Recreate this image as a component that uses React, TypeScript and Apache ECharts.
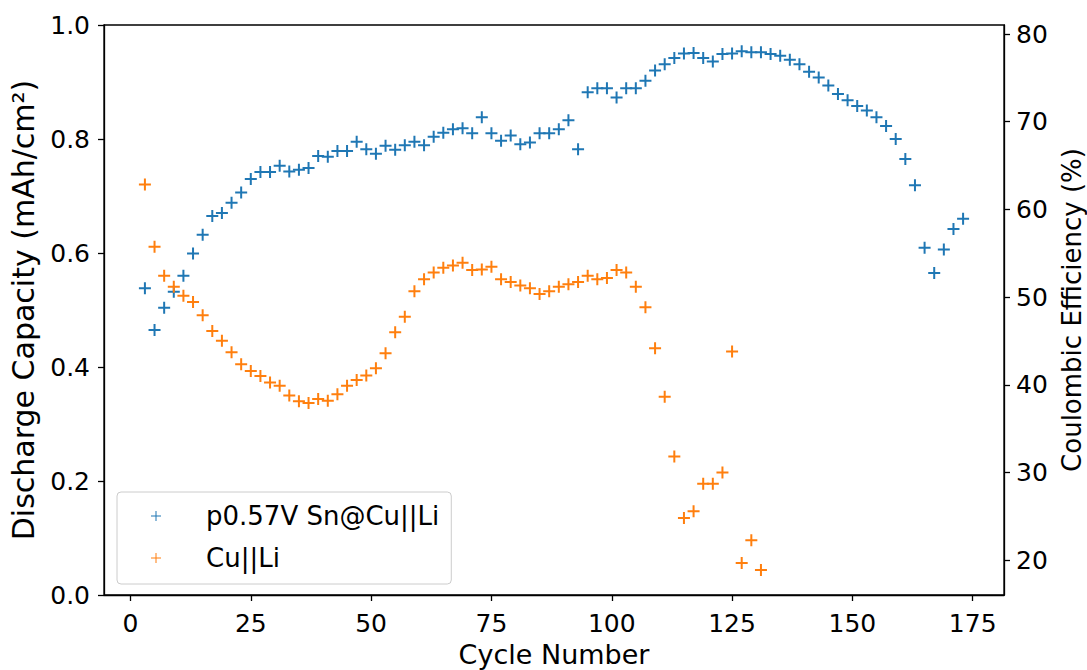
import React, { useEffect, useRef } from "react";
import * as echarts from "echarts";

const cyclesSn = [3,5,7,9,11,13,15,17,19,21,23,25,27,29,31,33,35,37,39,41,43,45,47,49,51,53,55,57,59,61,63,65,67,69,71,73,75,77,79,81,83,85,87,89,91,93,95,97,99,101,103,105,107,109,111,113,115,117,119,121,123,125,127,129,131,133,135,137,139,141,143,145,147,149,151,153,155,157,159,161,163,165,167,169,171,173];
const capacitySn = [0.538,0.465,0.504,0.532,0.560,0.599,0.632,0.665,0.670,0.688,0.706,0.730,0.742,0.742,0.753,0.743,0.746,0.749,0.770,0.769,0.779,0.779,0.795,0.782,0.774,0.788,0.781,0.789,0.795,0.789,0.804,0.811,0.817,0.819,0.810,0.838,0.810,0.797,0.806,0.791,0.794,0.810,0.810,0.817,0.833,0.782,0.882,0.889,0.889,0.873,0.889,0.889,0.902,0.920,0.931,0.942,0.950,0.951,0.942,0.936,0.949,0.950,0.954,0.952,0.952,0.949,0.946,0.939,0.931,0.918,0.908,0.894,0.879,0.868,0.858,0.850,0.838,0.823,0.800,0.765,0.719,0.609,0.565,0.606,0.642,0.660];

const cyclesCu = [3,5,7,9,11,13,15,17,19,21,23,25,27,29,31,33,35,37,39,41,43,45,47,49,51,53,55,57,59,61,63,65,67,69,71,73,75,77,79,81,83,85,87,89,91,93,95,97,99,101,103,105,107,109,111,113,115,117,119,121,123,125,127,129,131];
const capacityCu = [0.720,0.611,0.560,0.541,0.525,0.514,0.491,0.463,0.446,0.426,0.405,0.393,0.384,0.373,0.367,0.350,0.340,0.337,0.344,0.341,0.352,0.367,0.377,0.385,0.398,0.424,0.461,0.488,0.533,0.554,0.566,0.574,0.578,0.583,0.570,0.571,0.576,0.554,0.549,0.543,0.538,0.528,0.533,0.541,0.545,0.549,0.560,0.554,0.556,0.570,0.566,0.541,0.505,0.433,0.348,0.243,0.135,0.147,0.195,0.195,0.215,0.427,0.056,0.096,0.044];

const xTicks = [0, 25, 50, 75, 100, 125, 150, 175];
const rightTicks = [20, 30, 40, 50, 60, 70, 80];

const seriesNames = ["p0.57V Sn@Cu||Li", "Cu||Li"];
const colors = ["#1f77b4", "#ff7f0e"];

const PLUS = "path://M5,0H7V5H12V7H7V12H5V7H0V5H5Z";
const PLUS_THIN = "path://M5.4,0H6.6V5.4H12V6.6H6.6V12H5.4V6.6H0V5.4H5.4Z";
const FONT = "DejaVu Sans";

export default function App() {
  const ref = useRef<HTMLDivElement>(null);
  useEffect(() => {
    if (!ref.current) return;
    const chart = echarts.init(ref.current, undefined, { renderer: "svg" });
    const axisLine = { show: true, onZero: false, lineStyle: { color: "#000", width: 1.3 } };
    const axisTick = { show: true, inside: false, length: 6, lineStyle: { color: "#000", width: 1.3 } };
    chart.setOption({
      animation: false,
      backgroundColor: "#fff",
      textStyle: { fontFamily: FONT },
      grid: {
        left: 104, right: 83, top: 25, bottom: 75,
        outerBoundsMode: "none",
        containLabel: false,
        show: true, borderColor: "#000", borderWidth: 1.3, backgroundColor: "transparent",
      },
      legend: {
        orient: "vertical",
        left: 117,
        top: 492,
        padding: [9, 12, 11, 34],
        itemGap: 12,
        itemWidth: 10,
        itemHeight: 10,
        icon: PLUS_THIN,
        backgroundColor: "rgba(255,255,255,0.8)",
        borderColor: "#cccccc",
        borderWidth: 1,
        borderRadius: 4,
        textStyle: { fontFamily: FONT, fontSize: 26, color: "#000", lineHeight: 30, padding: [0, 0, 0, 40] },
        data: seriesNames,
      },
      xAxis: {
        type: "value",
        min: -5.5,
        max: 181.5,
        name: "Cycle Number",
        nameLocation: "middle",
        nameGap: 44,
        nameTextStyle: { fontFamily: FONT, fontSize: 27, color: "#000" },
        axisLine,
        axisTick: { ...axisTick, customValues: xTicks },
        axisLabel: { customValues: xTicks, fontFamily: FONT, fontSize: 25, color: "#000", margin: 16 },
        splitLine: { show: false },
      },
      yAxis: [
        {
          type: "value",
          min: 0,
          max: 1,
          interval: 0.2,
          position: "left",
          name: "Discharge Capacity (mAh/cm²)",
          nameLocation: "middle",
          nameGap: 66,
          nameRotate: 90,
          nameTextStyle: { fontFamily: FONT, fontSize: 30, color: "#000" },
          axisLine,
          axisTick,
          axisLabel: { fontFamily: FONT, fontSize: 25, color: "#000", margin: 14, formatter: (v: number) => v.toFixed(1) },
          splitLine: { show: false },
        },
        {
          type: "value",
          min: 16.03,
          max: 81.03,
          position: "right",
          name: "Coulombic Efficiency (%)",
          nameLocation: "middle",
          nameGap: 52,
          nameRotate: 90,
          nameTextStyle: { fontFamily: FONT, fontSize: 26, color: "#000" },
          axisLine,
          axisTick: { ...axisTick, customValues: rightTicks },
          axisLabel: { customValues: rightTicks, fontFamily: FONT, fontSize: 25, color: "#000", margin: 12 },
          splitLine: { show: false },
        },
      ],
      series: [
        {
          name: seriesNames[0],
          type: "scatter",
          yAxisIndex: 0,
          symbol: PLUS,
          symbolSize: 12,
          itemStyle: { color: colors[0], opacity: 1 },
          data: cyclesSn.map((c, i) => [c, capacitySn[i]]),
        },
        {
          name: seriesNames[1],
          type: "scatter",
          yAxisIndex: 0,
          symbol: PLUS,
          symbolSize: 12,
          itemStyle: { color: colors[1], opacity: 1 },
          data: cyclesCu.map((c, i) => [c, capacityCu[i]]),
        },
      ],
    });
    return () => chart.dispose();
  }, []);
  return (
    <div
      ref={ref}
      style={{ position: "fixed", left: 0, top: 0, width: 1087, height: 670, background: "#fff" }}
    />
  );
}
